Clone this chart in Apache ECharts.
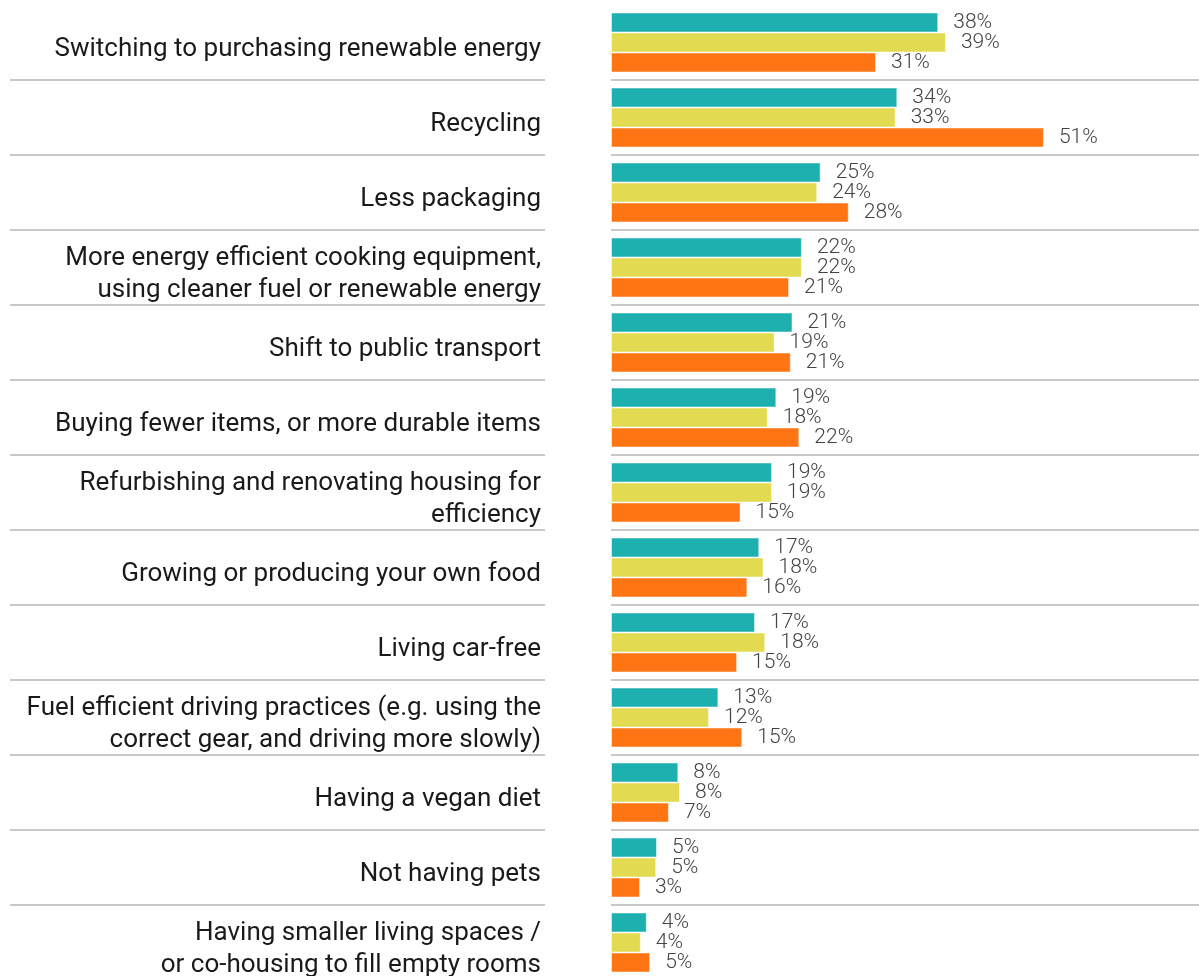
<!DOCTYPE html>
<html>
<head>
<meta charset="utf-8">
<script src="https://cdn.jsdelivr.net/npm/echarts@6/dist/echarts.min.js"></script>
<style>
  html, body { margin: 0; padding: 0; background: #fff; }
  #chart { width: 1199px; height: 976px; }
</style>
</head>
<body>
<div id="chart"></div>
<script>
const categories = [
  'Switching to purchasing renewable energy',
  'Recycling',
  'Less packaging',
  'More energy efficient cooking equipment,\nusing cleaner fuel or renewable energy',
  'Shift to public transport',
  'Buying fewer items, or more durable items',
  'Refurbishing and renovating housing for\nefficiency',
  'Growing or producing your own food',
  'Living car-free',
  'Fuel efficient driving practices (e.g. using the\ncorrect gear, and driving more slowly)',
  'Having a vegan diet',
  'Not having pets',
  'Having smaller living spaces /\nor co-housing to fill empty rooms'
]
const tealValues = [38.4, 33.6, 24.6, 22.4, 21.3, 19.4, 18.9, 17.4, 16.9, 12.6, 7.9, 5.4, 4.2]
const yellowValues = [39.3, 33.4, 24.2, 22.4, 19.2, 18.4, 18.9, 17.9, 18.1, 11.5, 8.1, 5.3, 3.5]
const orangeValues = [31.1, 50.8, 27.9, 20.9, 21.1, 22.1, 15.2, 16.0, 14.8, 15.4, 6.8, 3.4, 4.6]
const colors = ['#1eb0ae', '#e2da50', '#ff7514']

const chart = echarts.init(document.getElementById('chart'))

// 分隔线：跳过最上面那条
const splitLine = {
  show: true,
  interval: (i) => i > 0,
  lineStyle: { color: '#c8c8c8', width: 2 }
}

function barSeries(name, values, color) {
  return {
    name: name,
    type: 'bar',
    xAxisIndex: 1,
    yAxisIndex: 1,
    data: values,
    barWidth: 20,
    barGap: '0%',
    itemStyle: {
      color: color,
      borderColor: 'rgba(255,255,255,0.5)',
      borderWidth: 1
    },
    label: {
      show: true,
      position: 'right',
      distance: 15,
      fontFamily: 'Roboto',
      fontWeight: 300,
      fontSize: 21,
      color: '#444',
      formatter: (p) => Math.round(p.value) + '%'
    }
  }
}

const option = {
  animation: false,
  grid: [
    { left: 10, width: 535, top: 5, height: 975, outerBoundsMode: 'none' },
    { left: 611, right: 0, top: 5, height: 975, outerBoundsMode: 'none' }
  ],
  xAxis: [
    { type: 'value', gridIndex: 0, min: 0, max: 1, show: false },
    { type: 'value', gridIndex: 1, min: 0, max: 69, show: false }
  ],
  yAxis: [
    {
      type: 'category',
      gridIndex: 0,
      inverse: true,
      data: categories,
      axisLine: { show: false },
      axisTick: { show: false },
      axisLabel: { show: false },
      splitLine: splitLine
    },
    {
      type: 'category',
      gridIndex: 1,
      inverse: true,
      data: categories,
      axisLine: { show: false },
      axisTick: { show: false },
      axisLabel: {
        margin: 70,
        fontFamily: 'Roboto',
        fontSize: 26,
        lineHeight: 32,
        color: '#1a1a1a',
        align: 'right',
        // 空的首行把文字往下推一点
        formatter: (v) => '{s| }\n' + v,
        rich: {
          s: { fontSize: 1, lineHeight: 13 }
        }
      },
      splitLine: splitLine
    }
  ],
  series: [
    barSeries('a', tealValues, colors[0]),
    barSeries('b', yellowValues, colors[1]),
    barSeries('c', orangeValues, colors[2])
  ]
}

chart.setOption(option)
</script>
</body>
</html>
